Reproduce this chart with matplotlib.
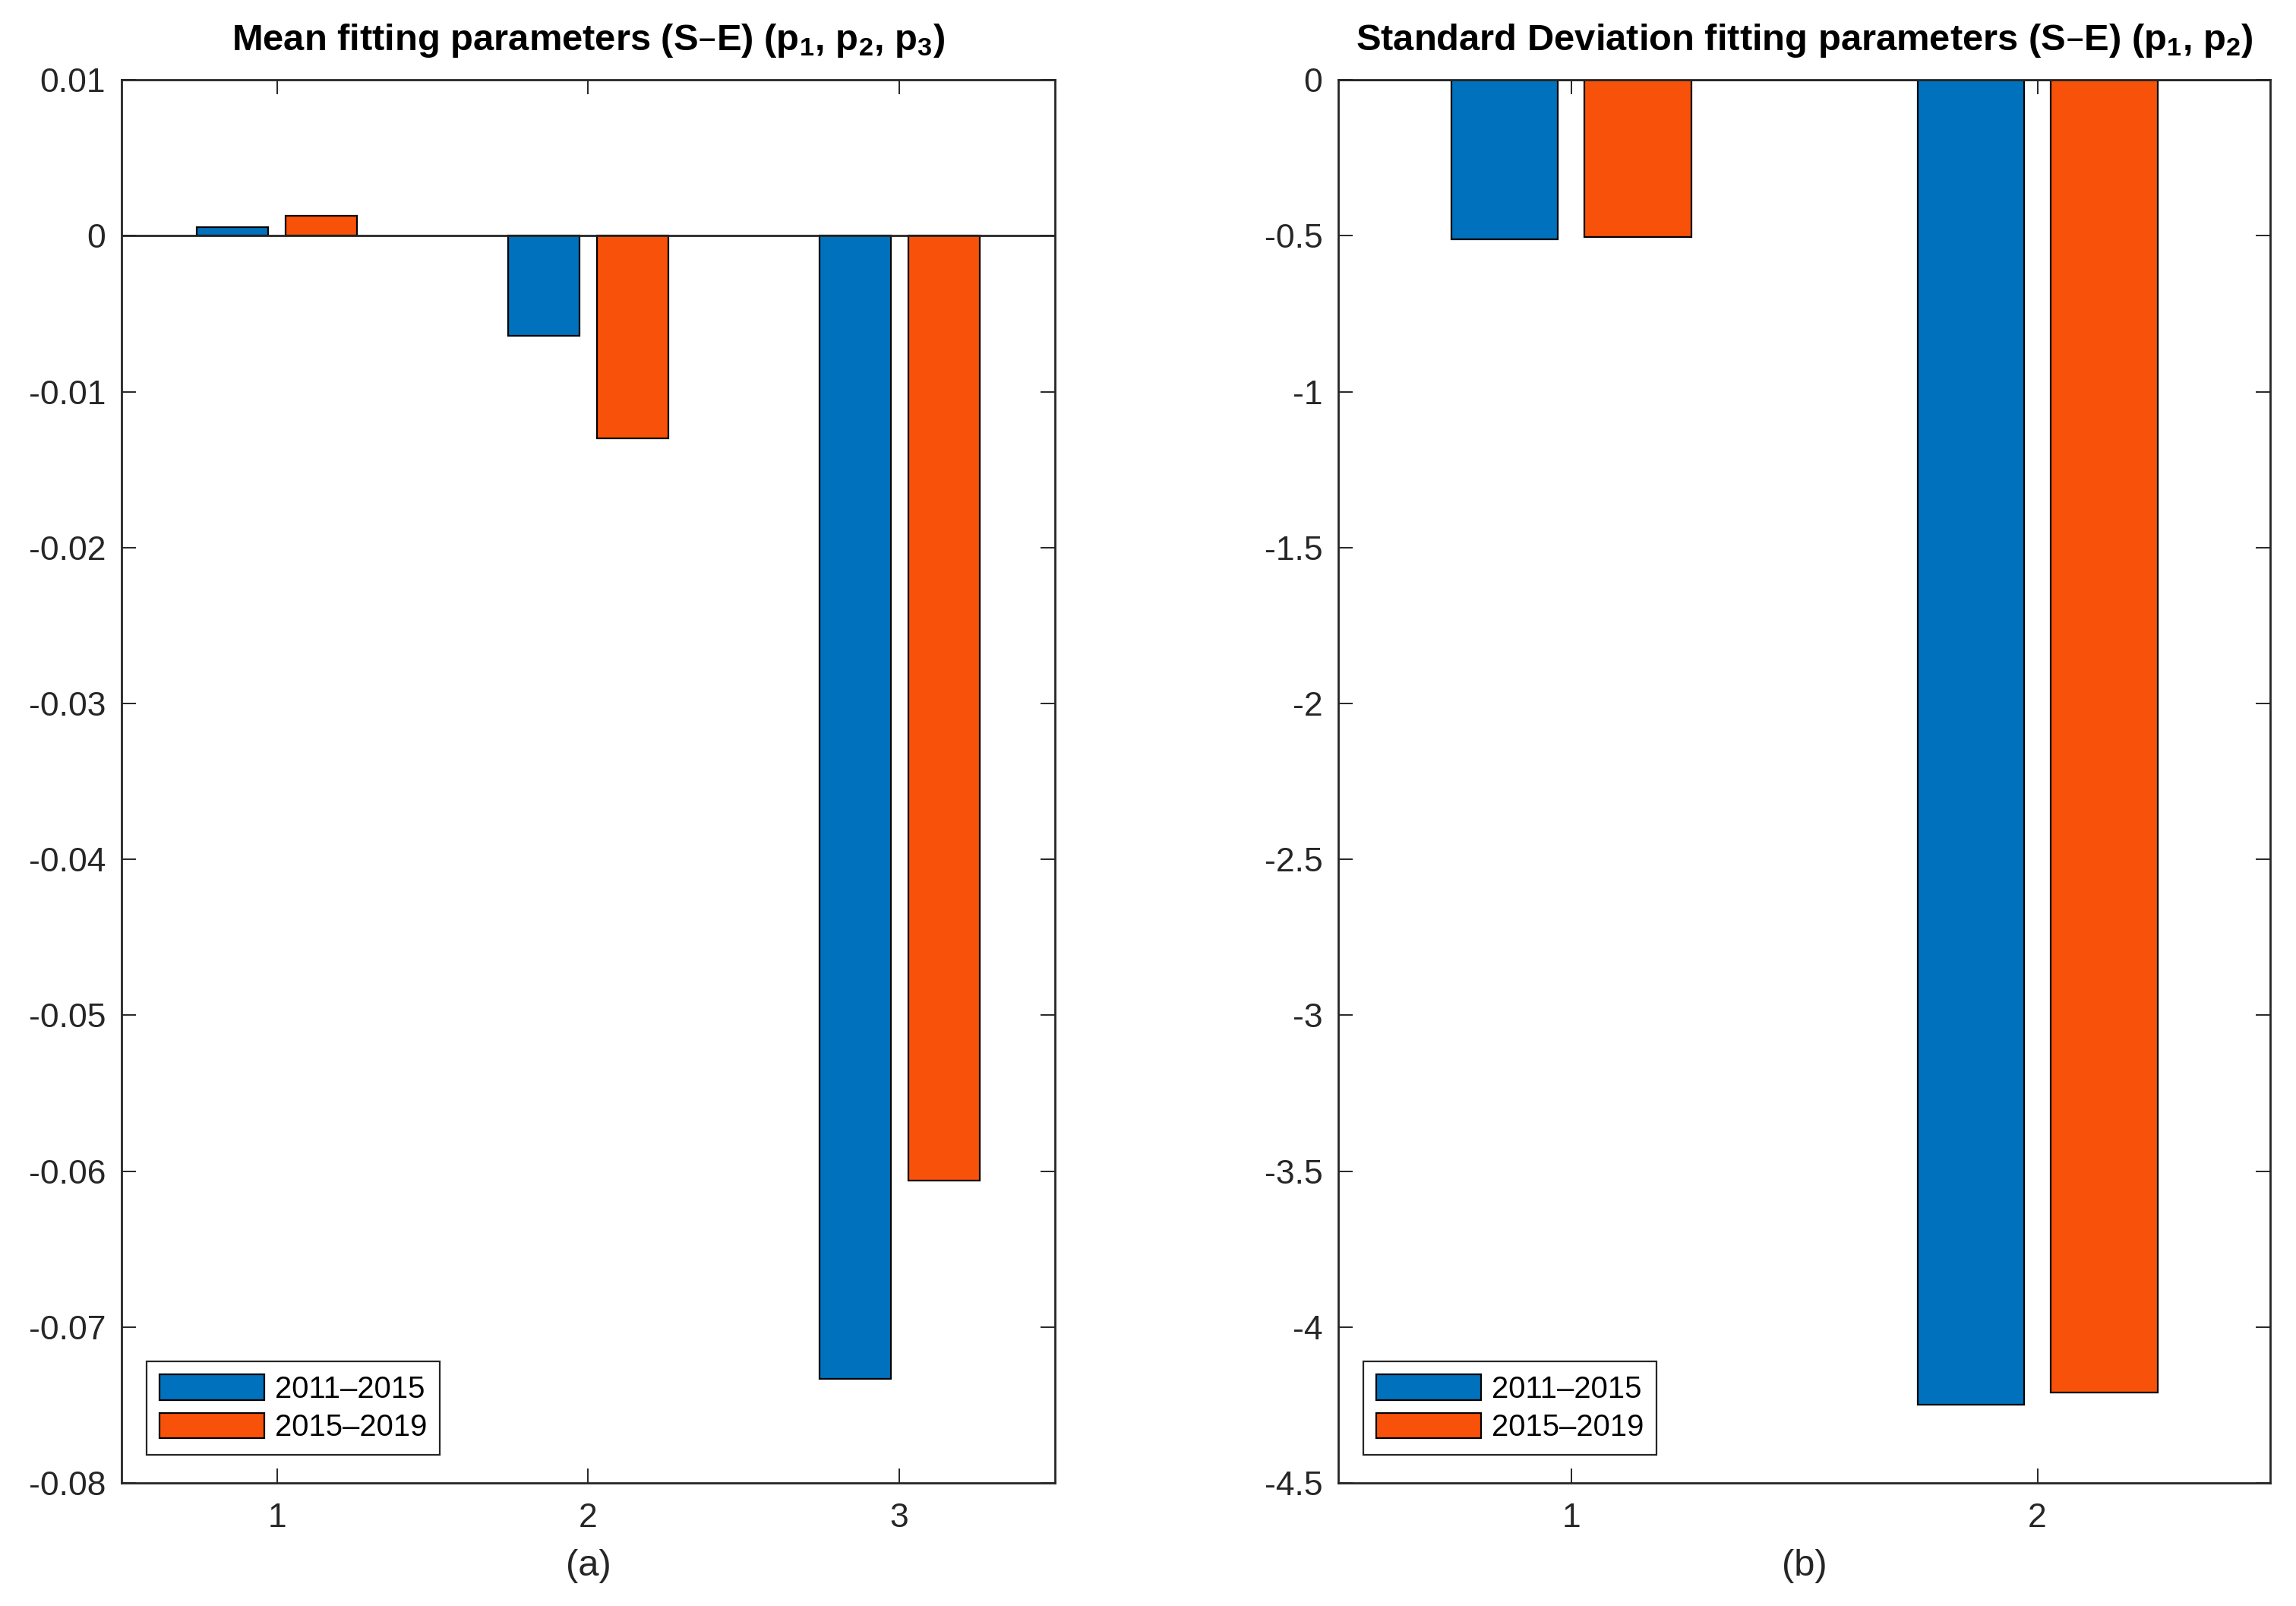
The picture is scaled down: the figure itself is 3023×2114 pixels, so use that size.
import numpy as np
import matplotlib
matplotlib.use("Agg")
import matplotlib.pyplot as plt
from matplotlib.ticker import FuncFormatter

# data
series_labels = ["2011\u20132015", "2015\u20132019"]

mean_params = [1, 2, 3]
mean_2011 = [0.00056, -0.00643, -0.0733]
mean_2015 = [0.00128, -0.0130, -0.0606]

std_params = [1, 2]
std_2011 = [-0.512, -4.25]
std_2015 = [-0.505, -4.21]

blue = "#0072BD"
orange = "#F8520A"
axis_gray = "#262626"

plt.rcParams["font.family"] = ["Liberation Sans", "DejaVu Sans"]
plt.rcParams["axes.unicode_minus"] = False
plt.rcParams["mathtext.default"] = "regular"


def fmt(v, pos):
    s = "%g" % round(v, 6)
    return "0" if s in ("-0", "0") else s


def grouped_bars(ax, x, a, b, ylim, yticks, title, xlabel):
    x = np.asarray(x, dtype=float)
    width = 0.229
    off = 0.143
    ax.bar(x - off, a, width, color=blue, edgecolor="black", linewidth=0.8,
           label=series_labels[0], zorder=2)
    ax.bar(x + off, b, width, color=orange, edgecolor="black", linewidth=0.8,
           label=series_labels[1], zorder=2)
    ax.axhline(0, color=axis_gray, linewidth=1.0, zorder=3)
    ax.set_xlim(x[0] - 0.5, x[-1] + 0.5)
    ax.set_ylim(*ylim)
    ax.set_xticks(x)
    ax.set_xticklabels([str(int(v)) for v in x])
    ax.set_yticks(yticks)
    ax.yaxis.set_major_formatter(FuncFormatter(fmt))
    ax.tick_params(direction="in", length=6.7, width=0.7, colors=axis_gray,
                   labelcolor="#262626", labelsize=16, top=True, right=True)
    ax.tick_params(axis="x", pad=9.5)
    ax.tick_params(axis="y", pad=7.5)
    for sp in ax.spines.values():
        sp.set_color(axis_gray)
        sp.set_linewidth(1.0)
    ax.set_title(title, fontsize=17.6, fontweight="bold", pad=14)
    ax.set_xlabel(xlabel, fontsize=17.6, labelpad=7, color="#262626")
    leg = ax.legend(loc="lower left", bbox_to_anchor=(0.027, 0.02),
                    borderaxespad=0, fontsize=14.4, handlelength=3.45,
                    handleheight=0.92, handletextpad=0.35, labelspacing=0.3,
                    borderpad=0.42, fancybox=False, framealpha=1)
    leg.get_frame().set_edgecolor(axis_gray)
    leg.get_frame().set_linewidth(0.8)


fig = plt.figure(figsize=(15.115, 10.57), dpi=200)
ax1 = fig.add_axes([0.0529, 0.0766, 0.4066, 0.8737])
ax2 = fig.add_axes([0.5829, 0.0766, 0.4060, 0.8737])

grouped_bars(ax1, mean_params, mean_2011, mean_2015, (-0.08, 0.01),
             np.arange(-0.08, 0.0101, 0.01),
             "Mean fitting parameters (S\u2013E) (p$_1$, p$_2$, p$_3$)", "(a)")
grouped_bars(ax2, std_params, std_2011, std_2015, (-4.5, 0),
             np.arange(-4.5, 0.01, 0.5),
             "Standard Deviation fitting parameters (S\u2013E) (p$_1$, p$_2$)", "(b)")

fig.savefig("out.png", dpi=200)
